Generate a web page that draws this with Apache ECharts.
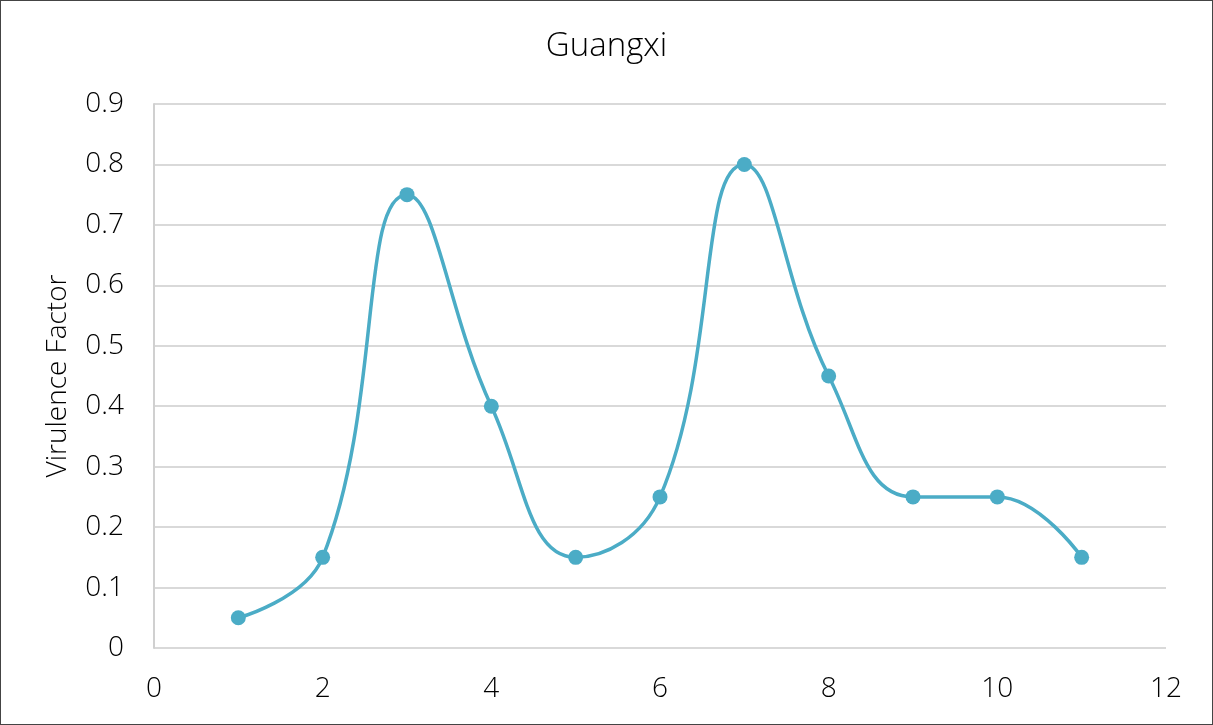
<!DOCTYPE html>
<html>
<head>
<meta charset="utf-8">
<script src="https://cdn.jsdelivr.net/npm/echarts@6/dist/echarts.min.js"></script>
<style>
  html, body { margin: 0; padding: 0; background: #fff; }
  #chart { position: absolute; left: 0; top: 0; width: 1211px; height: 723px; border: 1px solid #444; }
</style>
</head>
<body>
<div id="chart"></div>
<script>
// Virulence factor measured at sample positions 1..11
const positions = [1, 2, 3, 4, 5, 6, 7, 8, 9, 10, 11];
const virulence = [0.05, 0.15, 0.75, 0.40, 0.15, 0.25, 0.80, 0.45, 0.25, 0.25, 0.15];

const chart = echarts.init(document.getElementById('chart'));
const font = '"Open Sans", "DejaVu Sans", sans-serif';

chart.setOption({
  animation: false,
  title: {
    text: 'Guangxi',
    left: 'center',
    top: 24,
    textStyle: { fontFamily: font, fontWeight: 300, fontSize: 33, color: '#000' }
  },
  grid: { left: 153, right: 46, top: 103, bottom: 76 },
  xAxis: {
    type: 'value',
    min: 0, max: 12, interval: 2,
    axisLine: { show: false },
    axisTick: { show: false },
    splitLine: { show: false },
    axisLabel: { margin: 27, fontFamily: font, fontWeight: 300, fontSize: 28, color: '#000' }
  },
  yAxis: {
    type: 'value',
    min: 0, max: 0.9, interval: 0.1,
    name: 'Virulence Factor',
    nameLocation: 'middle',
    nameGap: 82,
    nameTextStyle: { fontFamily: font, fontWeight: 300, fontSize: 28, color: '#000' },
    axisLine: { show: true, lineStyle: { color: '#d0d0d0', width: 2 } },
    axisTick: { show: false },
    splitLine: { show: true, lineStyle: { color: '#d9d9d9', width: 2 } },
    axisLabel: {
      margin: 30, fontFamily: font, fontWeight: 300, fontSize: 28, color: '#000',
      formatter: v => Number(v.toFixed(1)).toString()
    }
  },
  series: [{
    type: 'line',
    data: positions.map((x, i) => [x, virulence[i]]),
    smooth: 0.45,
    symbol: 'circle',
    symbolSize: 15,
    lineStyle: { color: '#4BACC6', width: 3.5 },
    itemStyle: { color: '#4BACC6' }
  }]
});
</script>
</body>
</html>
